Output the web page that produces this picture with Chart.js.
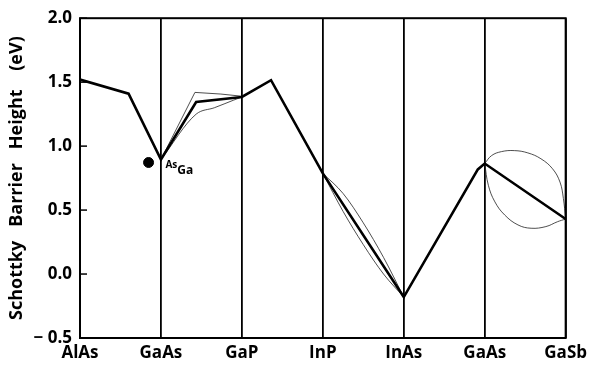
<!DOCTYPE html>
<html>
<head>
<meta charset="utf-8">
<script src="https://cdn.jsdelivr.net/npm/chart.js@4/dist/chart.umd.min.js"></script>
<style>
  html, body { margin: 0; padding: 0; background: #fff; }
  #wrap { width: 592px; height: 366px; }
</style>
</head>
<body>
<div id="wrap"><canvas id="barrierChart"></canvas></div>
<script>
// semiconductor sequence along the x axis
const categories = ["AlAs", "GaAs", "GaP", "InP", "InAs", "GaAs", "GaSb"];
const yTickValues = [-0.5, 0, 0.5, 1.0, 1.5, 2.0];

// main (thick) curve
const mainX = [0, 0.6, 1, 1.435, 2, 2.36, 3, 4, 4.915, 5, 6];
const mainY = [1.52, 1.41, 0.895, 1.345, 1.384, 1.515, 0.787, -0.18, 0.818, 0.864, 0.43];

// thin curves, GaAs -> GaP
const gapUpperX = [1, 1.42, 1.74, 2];
const gapUpperY = [0.895, 1.42, 1.407, 1.39];
const gapLowerX = [1, 1.435, 1.66, 1.9, 2];
const gapLowerY = [0.895, 1.25, 1.30, 1.36, 1.384];

// thin curves, InP -> InAs
const inasUpperX = [3, 3.25, 3.5, 3.75, 4];
const inasUpperY = [0.787, 0.63, 0.40, 0.13, -0.18];
const inasLowerX = [3, 3.25, 3.5, 3.75, 4];
const inasLowerY = [0.787, 0.49, 0.23, 0.0, -0.18];

// thin loop, GaAs -> GaSb
const loopUpperX = [5, 5.085, 5.207, 5.366, 5.533, 5.695, 5.838, 5.93, 5.972, 6];
const loopUpperY = [0.864, 0.926, 0.957, 0.965, 0.947, 0.901, 0.823, 0.719, 0.591, 0.43];
const loopLowerX = [5, 5.045, 5.126, 5.248, 5.411, 5.573, 5.756, 5.899, 6];
const loopLowerY = [0.864, 0.694, 0.564, 0.461, 0.384, 0.358, 0.371, 0.409, 0.43];

// As_Ga antisite point and its label anchor
const antisiteX = [0.847];
const antisiteY = [0.872];
const labelX = 1.055;
const labelY = 0.83;

function pts(xs, ys) {
    return xs.map((x, i) => ({ x: x, y: ys[i] }));
}

function thinLine(xs, ys, tension, mode) {
    return {
        data: pts(xs, ys),
        borderColor: '#222',
        borderWidth: 0.8,
        pointRadius: 0,
        tension: tension,
        cubicInterpolationMode: mode || 'default',
        fill: false
    };
}

const FONT = "'Open Sans', 'DejaVu Sans', sans-serif";

// frame, inward y ticks and the As_Ga label
const decorations = {
    id: 'decorations',
    afterDraw(chart) {
        const ctx = chart.ctx;
        const a = chart.chartArea;
        const xs = chart.scales.x;
        const ys = chart.scales.y;
        ctx.save();
        ctx.strokeStyle = '#000';
        ctx.lineWidth = 2;
        ctx.strokeRect(a.left, a.top, a.right - a.left, a.bottom - a.top);
        ctx.lineWidth = 1.5;
        yTickValues.forEach(v => {
            const py = ys.getPixelForValue(v);
            ctx.beginPath();
            ctx.moveTo(a.left, py);
            ctx.lineTo(a.left + 7, py);
            ctx.stroke();
        });
        const lx = xs.getPixelForValue(labelX);
        const ly = ys.getPixelForValue(labelY);
        ctx.fillStyle = '#000';
        ctx.textBaseline = 'alphabetic';
        ctx.font = "bold 10px " + FONT;
        ctx.fillText("As", lx, ly);
        const w = ctx.measureText("As").width;
        ctx.font = "bold 12px " + FONT;
        ctx.fillText("Ga", lx + w, ly + 6);
        ctx.restore();
    }
};

new Chart(document.getElementById('barrierChart'), {
    type: 'line',
    data: {
        datasets: [
            {
                data: pts(mainX, mainY),
                borderColor: '#000',
                borderWidth: 2.6,
                pointRadius: 0,
                tension: 0,
                fill: false
            },
            thinLine(gapUpperX, gapUpperY, 0),
            thinLine(gapLowerX, gapLowerY, 0.3, 'monotone'),
            thinLine(inasUpperX, inasUpperY, 0.4, 'monotone'),
            thinLine(inasLowerX, inasLowerY, 0.4, 'monotone'),
            thinLine(loopUpperX, loopUpperY, 0.4),
            thinLine(loopLowerX, loopLowerY, 0.4),
            {
                type: 'scatter',
                data: pts(antisiteX, antisiteY),
                pointRadius: 5,
                pointBackgroundColor: '#000',
                pointBorderColor: '#000',
                showLine: false
            }
        ]
    },
    options: {
        responsive: true,
        maintainAspectRatio: false,
        animation: false,
        layout: { padding: { top: 15, right: 23, left: 0, bottom: 0 } },
        plugins: {
            legend: { display: false },
            tooltip: { enabled: false }
        },
        scales: {
            x: {
                type: 'linear',
                min: 0,
                max: 6,
                afterFit: s => { s.height = 28; },
                afterBuildTicks: s => { s.ticks = categories.map((c, i) => ({ value: i })); },
                ticks: {
                    autoSkip: false,
                    maxRotation: 0,
                    padding: 5,
                    color: '#000',
                    font: { family: FONT, size: 17, weight: 'bold' },
                    callback: v => categories[v]
                },
                grid: {
                    color: '#000',
                    lineWidth: 1.8,
                    drawTicks: false
                },
                border: { display: false }
            },
            y: {
                min: -0.5,
                max: 2.0,
                afterFit: s => { s.width = 80; },
                afterBuildTicks: s => { s.ticks = yTickValues.map(v => ({ value: v })); },
                ticks: {
                    padding: 8,
                    color: '#000',
                    font: { family: FONT, size: 17, weight: 'bold' },
                    callback: v => (v < 0 ? '\u2212 ' + Math.abs(v).toFixed(1) : v.toFixed(1))
                },
                grid: { display: false, drawTicks: false },
                border: { display: false },
                title: {
                    display: true,
                    text: 'Schottky   Barrier   Height    (eV)',
                    color: '#000',
                    font: { family: FONT, size: 18, weight: 'bold' },
                    padding: { top: 6, bottom: 0 }
                }
            }
        }
    },
    plugins: [decorations]
});
</script>
</body>
</html>
